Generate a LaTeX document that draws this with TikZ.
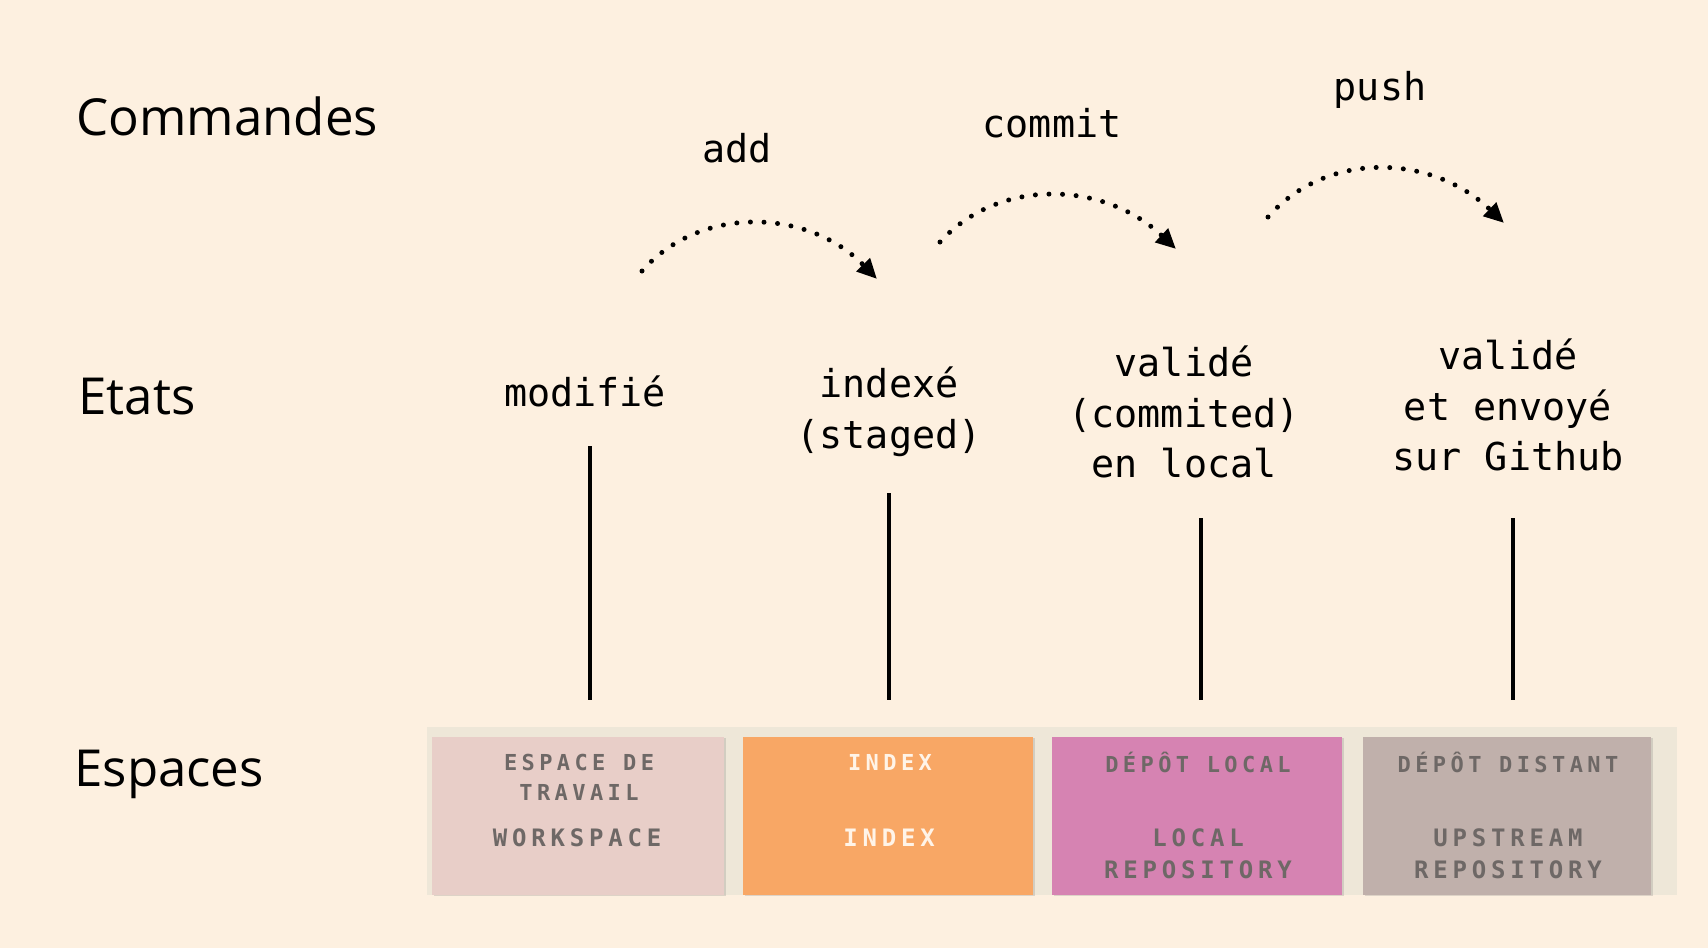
\documentclass[tikz,border=0pt]{standalone}
\usepackage{fontspec}
\setmainfont{Open Sans}
\newfontfamily\monofont{DejaVu Sans Mono}
\newfontfamily\stencilfont[LetterSpace=20]{DejaVu Sans Mono Bold}
\usetikzlibrary{arrows.meta,shadows}
\definecolor{bgcol}{HTML}{FDF0E0}
\definecolor{stripcol}{HTML}{EEE7D8}
\definecolor{wscol}{HTML}{E8CEC8}
\definecolor{idxcol}{HTML}{F8A765}
\definecolor{loccol}{HTML}{D683B2}
\definecolor{upcol}{HTML}{C0B0AB}
\definecolor{boxtext}{HTML}{6E6866}
\definecolor{idxtext}{HTML}{FFF4E8}
\tikzset{
  heading/.style={font=\fontsize{25.5}{30}\selectfont, anchor=base west, inner sep=0pt},
  cmdlabel/.style={font=\monofont\fontsize{19.2}{25.3}\selectfont, inner sep=0pt},
  statelabel/.style={font=\monofont\fontsize{19.2}{25.3}\selectfont, align=center, inner sep=0pt},
  stemline/.style={line width=2.2pt},
  cmdarrow/.style={line width=2.5pt, line cap=round, dash pattern=on 0pt off 6.8pt,
     -{Triangle[length=10pt,width=9pt]}},
  spacebox/.style={rectangle, draw=none, inner sep=0pt, minimum height=79pt,
     drop shadow={opacity=0.25, shadow xshift=1.2pt, shadow yshift=-0.6pt}},
  uplabel/.style={font=\stencilfont\fontsize{11}{13}\selectfont, text=boxtext, inner sep=0pt},
  lowlabel/.style={font=\stencilfont\fontsize{12}{14}\selectfont, text=boxtext, inner sep=0pt},
}
\begin{document}
\begin{tikzpicture}[x=0.5pt,y=-0.5pt]
\fill[bgcol] (0,0) rectangle (1708,948);
\useasboundingbox (0,0) rectangle (1708,948);

% headings
\node[heading] (hcmd) at (76,135) {Commandes};
\node[heading] (hstate) at (78,414) {Etats};
\node[heading] (hspace) at (74,786) {Espaces};

% commands
\node[cmdlabel] (cadd) at (737,148) {add};
\node[cmdlabel] (ccommit) at (1052,123) {commit};
\node[cmdlabel] (cpush) at (1380,90) {push};

% arrows
\coordinate (a1s) at (642,271);
\coordinate (a1e) at (877,279);
\coordinate (a2s) at (940,242);
\coordinate (a2e) at (1176,249);
\coordinate (a3s) at (1268,217);
\coordinate (a3e) at (1504,223);
\draw[cmdarrow] (a1s) .. controls (700,205) and (808,208) .. (a1e);
\draw[cmdarrow] (a2s) .. controls (998,178) and (1103,180) .. (a2e);
\draw[cmdarrow] (a3s) .. controls (1326,151) and (1431,153) .. (a3e);

% states
\node[statelabel] (smod) at (585,391) {modifié};
\node[statelabel] (sidx) at (889,412) {indexé\\(staged)};
\node[statelabel] (sloc) at (1184,412) {validé\\(commited)\\en local};
\node[statelabel] (sup) at (1508,405) {validé\\et envoyé\\sur Github};

% stems
\coordinate (l1t) at (590,446); \coordinate (l1b) at (590,700);
\coordinate (l2t) at (889,493); \coordinate (l2b) at (889,700);
\coordinate (l3t) at (1201,518); \coordinate (l3b) at (1201,700);
\coordinate (l4t) at (1513,518); \coordinate (l4b) at (1513,700);
\draw[stemline] (l1t) -- (l1b);
\draw[stemline] (l2t) -- (l2b);
\draw[stemline] (l3t) -- (l3b);
\draw[stemline] (l4t) -- (l4b);

% spaces strip and boxes
\node[rectangle, fill=stripcol, minimum width=625pt, minimum height=84pt, inner sep=0pt] (strip) at (1052,811) {};
\node[spacebox, fill=wscol, minimum width=146pt] (bws) at (578,816) {};
\node[spacebox, fill=idxcol, minimum width=145pt] (bidx) at (888,816) {};
\node[spacebox, fill=loccol, minimum width=145pt] (bloc) at (1197,816) {};
\node[spacebox, fill=upcol, minimum width=144pt] (bup) at (1507,816) {};

\node[uplabel] (t1a) at (579,762) {ESPACE DE};
\node[uplabel] (t1b) at (579,792) {TRAVAIL};
\node[lowlabel] (t1c) at (577,838) {WORKSPACE};

\node[uplabel, text=idxtext] (t2a) at (890,762) {INDEX};
\node[lowlabel, text=idxtext] (t2c) at (889,838) {INDEX};

\node[uplabel] (t3a) at (1198,762) {DÉPÔT LOCAL};
\node[lowlabel] (t3c) at (1198,838) {LOCAL};
\node[lowlabel] (t3d) at (1198,870) {REPOSITORY};

\node[uplabel] (t4a) at (1508,762) {DÉPÔT DISTANT};
\node[lowlabel] (t4c) at (1508,838) {UPSTREAM};
\node[lowlabel] (t4d) at (1508,870) {REPOSITORY};
\end{tikzpicture}
\end{document}
